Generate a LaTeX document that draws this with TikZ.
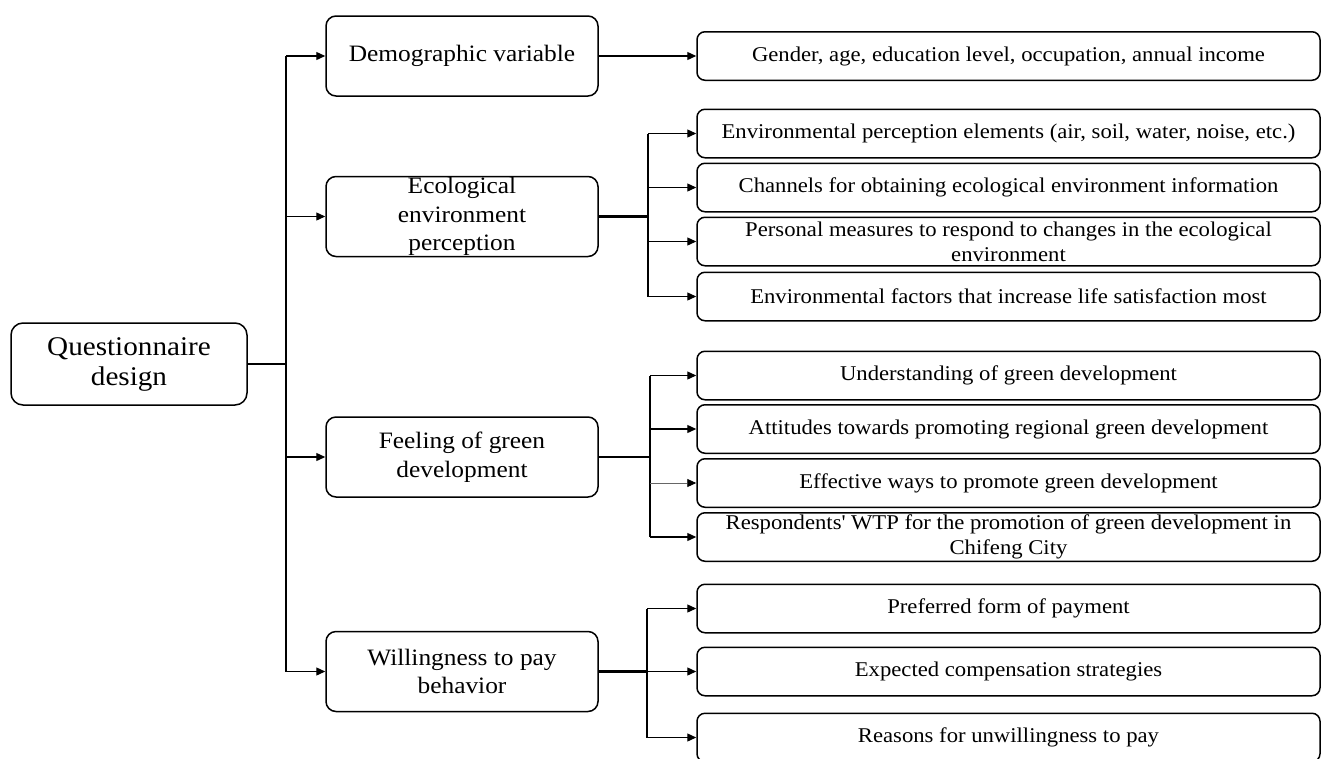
\documentclass[tikz,border=0pt]{standalone}
\usepackage{fontspec}
\setmainfont{Liberation Serif}[FakeStretch=1.08]
\usetikzlibrary{arrows.meta}
\begin{document}
\begin{tikzpicture}[x=1pt,y=-1pt,
  rootbox/.style={draw, line width=1.5pt, rounded corners=12pt, inner sep=0pt, align=center,
    minimum width=236pt, minimum height=82pt, font=\fontsize{27}{30}\selectfont},
  lvlbox/.style={draw, line width=1.5pt, rounded corners=10pt, inner sep=0pt, align=center,
    minimum width=272pt, minimum height=80pt, font=\fontsize{23.5}{28.5}\selectfont},
  leafbox/.style={draw, line width=1.5pt, rounded corners=8pt, inner sep=0pt, align=center,
    minimum width=623pt, minimum height=48.5pt, font=\fontsize{21}{25}\selectfont},
  conn/.style={line width=1.3pt},
  stub/.style={line width=2.6pt},
  arr/.style={line width=1.3pt, -{Triangle[length=9pt,width=8pt]}},
  thinarr/.style={line width=0.9pt, draw=black!60, -{Triangle[length=9pt,width=8pt,color=black]}}
]
\useasboundingbox (0,0) rectangle (1322,758);
\fill[white] (0,0) rectangle (1322,758);

% root
\node[rootbox] (root) at (129,364) {Questionnaire\\design};

% level 1
\node[lvlbox] (demo) at (462,56)    {Demographic variable};
\node[lvlbox] (eco)  at (462,216.5) {Ecological\\environment\\perception};
\node[lvlbox] (feel) at (462,457)   {Feeling of green\\development};
\node[lvlbox] (will) at (462,671.5) {Willingness to pay\\behavior};

% leaves
\node[leafbox] (g1) at (1008.5,56)    {Gender, age, education level, occupation, annual income};
\node[leafbox] (e1) at (1008.5,133.5) {Environmental perception elements (air, soil, water, noise, etc.)};
\node[leafbox] (e2) at (1008.5,187.5) {Channels for obtaining ecological environment information};
\node[leafbox] (e3) at (1008.5,241.5) {Personal measures to respond to changes in the ecological\\environment};
\node[leafbox] (e4) at (1008.5,296.5) {Environmental factors that increase life satisfaction most};
\node[leafbox] (f1) at (1008.5,375.5) {Understanding of green development};
\node[leafbox] (f2) at (1008.5,429)   {Attitudes towards promoting regional green development};
\node[leafbox] (f3) at (1008.5,483)   {Effective ways to promote green development};
\node[leafbox] (f4) at (1008.5,537)   {Respondents\textquotesingle{} WTP for the promotion of green development in\\Chifeng City};
\node[leafbox] (w1) at (1008.5,608.5) {Preferred form of payment};
\node[leafbox] (w2) at (1008.5,671.5) {Expected compensation strategies};
\node[leafbox] (w3) at (1008.5,737.5) {Reasons for unwillingness to pay};

% trunk
\coordinate (tr) at (286,364);
\draw[conn] (root.east) -- (tr);
\draw[conn] (tr |- demo.west) -- (tr |- will.west);
\foreach \n in {demo,eco,feel,will}
  \draw[arr] (tr |- \n.west) -- (\n.west);

% demographic
\draw[arr] (demo.east) -- (g1.west);

% ecological
\coordinate (be) at (648,216.5);
\draw[stub] (eco.east) -- (be);
\draw[conn] (be |- e1.west) -- (be |- e4.west);
\foreach \n in {e1,e2,e3,e4}
  \draw[arr] (be |- \n.west) -- (\n.west);

% feeling
\coordinate (bf) at (650,457);
\draw[stub] (feel.east) -- (bf);
\draw[conn] (bf |- f1.west) -- (bf |- f4.west);
\foreach \n in {f1,f2,f4}
  \draw[arr] (bf |- \n.west) -- (\n.west);
\draw[thinarr] (bf |- f3.west) -- (f3.west);

% willingness
\coordinate (bw) at (647,671.5);
\draw[stub] (will.east) -- (bw);
\draw[conn] (bw |- w1.west) -- (bw |- w3.west);
\foreach \n in {w1,w2,w3}
  \draw[arr] (bw |- \n.west) -- (\n.west);
\end{tikzpicture}
\end{document}
